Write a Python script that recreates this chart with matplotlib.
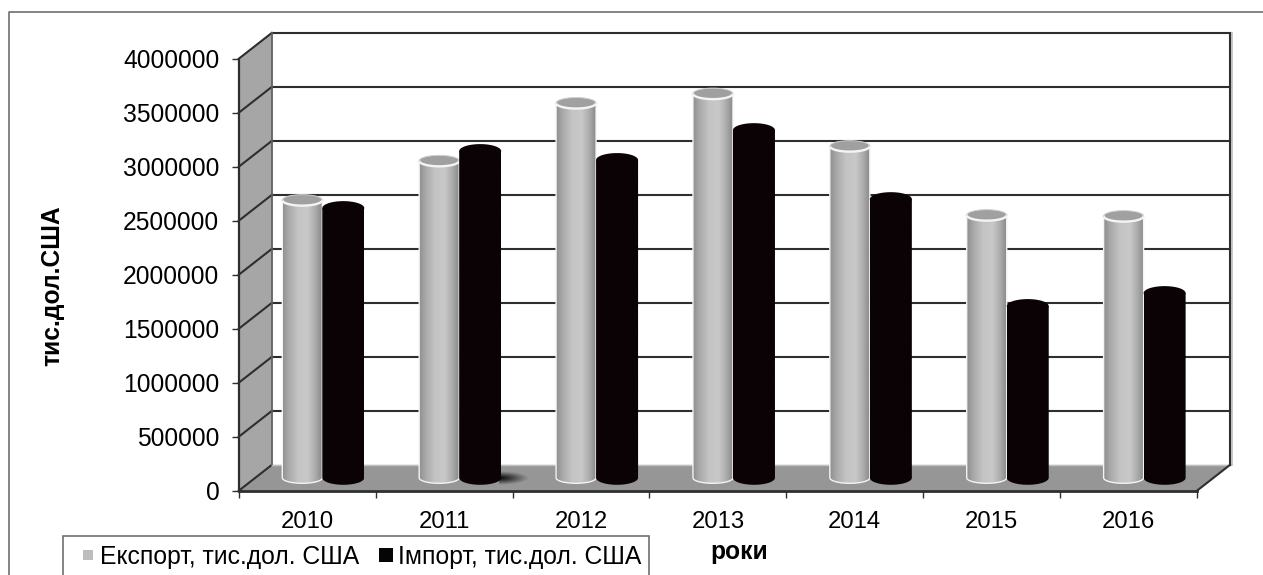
import numpy as np
import matplotlib
matplotlib.use('Agg')
import matplotlib.pyplot as plt
from matplotlib.lines import Line2D
from matplotlib.patches import Polygon, Rectangle
from matplotlib.colors import LinearSegmentedColormap

years = ['2010', '2011', '2012', '2013', '2014', '2015', '2016']
export_vals = [2571000, 2935000, 3470000, 3557000, 3071000, 2432000, 2423000]
import_vals = [2497000, 3025000, 2942000, 3219000, 2580000, 1590000, 1710000]
y_ticks = [0, 500000, 1000000, 1500000, 2000000, 2500000, 3000000, 3500000, 4000000]

W, H = 1263, 575
# front plane of the 3d box in pixels
PX_L, PX_R, PX_B, PX_T = 238.8, 1197.0, 490.7, 58.7
PX_PER_X = (PX_R - PX_L) / len(years)
PX_PER_Y = (PX_B - PX_T) / y_ticks[-1]
DX = 33.0 / PX_PER_X
DY = 25.8 / PX_PER_Y

plt.rcParams['font.family'] = ['Liberation Sans', 'DejaVu Sans']
LINE = '#2e2e2e'


def cylinder(ax, xc, half_w, val, cmap, semi_px, zorder, top_color, rim=None):
    # body + bottom arc, filled with a horizontal gradient
    base = DY / 2
    top = base + val
    semi = semi_px / PX_PER_Y
    t = np.linspace(np.pi, 2 * np.pi, 40)
    xs = np.concatenate([[xc - half_w], xc + half_w * np.cos(t), [xc + half_w]])
    ys = np.concatenate([[top], base + semi * np.sin(t), [top]])
    body = Polygon(np.column_stack([xs, ys]), closed=True, transform=ax.transData,
                   fc='none', ec='none')
    ax.add_patch(body)
    grad = np.linspace(0, 1, 64).reshape(1, -1)
    im = ax.imshow(grad, cmap=cmap, aspect='auto', zorder=zorder, vmin=0, vmax=1,
                   extent=[xc - half_w, xc + half_w, base - semi, top], interpolation='bilinear')
    im.set_clip_path(body)
    t2 = np.linspace(0, 2 * np.pi, 60)
    ex = xc + half_w * np.cos(t2)
    ey = top + semi * np.sin(t2)
    ax.fill(ex, ey, color=top_color, zorder=zorder + 0.1, clip_on=False, lw=0)
    if rim:
        ax.plot(xs, ys, color=rim, lw=1.0, zorder=zorder + 0.2, clip_on=False)
        # front of the top ring is bright, back of it only a thin light edge
        ax.plot(ex[30:], ey[30:], color=rim, lw=1.7, zorder=zorder + 0.3, clip_on=False)
        ax.plot(ex[:31], ey[:31], color='#d0d0d0', lw=0.7, zorder=zorder + 0.3, clip_on=False)


fig = plt.figure(figsize=(W / 100, H / 100), dpi=100)
ax = fig.add_axes([PX_L / W, 1 - PX_B / H, (PX_R - PX_L) / W, (PX_B - PX_T) / H])
n = len(years)
ymax = y_ticks[-1]

# left wall and floor
ax.add_patch(Polygon([(0, 0), (DX, DY), (DX, ymax + DY), (0, ymax)], fc='#a6a6a6', ec='none',
                     zorder=1, clip_on=False))
ax.add_patch(Polygon([(0, 0), (n, 0), (n + DX, DY), (DX, DY)], fc='#969696', ec='none',
                     zorder=1, clip_on=False))

# grid lines on walls
for v in y_ticks:
    if v > 0:
        ax.plot([DX, n + DX], [v + DY, v + DY], color=LINE, lw=1.5, zorder=2, clip_on=False)
    ax.plot([0, DX], [v, v + DY], color=LINE, lw=1.5, zorder=2, clip_on=False)
ax.plot([DX, DX], [DY, ymax + DY], color='#606060', lw=1.3, zorder=2, clip_on=False)
ax.plot([DX, n + DX], [DY, DY], color='#c0c0c0', lw=1.0, zorder=2, clip_on=False)
ax.plot([n + DX + 1.6 / PX_PER_X] * 2, [DY, ymax + DY], color='#bcbcbc', lw=1.2, zorder=1.5, clip_on=False)
ax.plot([n + DX, n + DX], [DY, ymax + DY], color=LINE, lw=1.5, zorder=2, clip_on=False)
ax.plot([n, n + DX], [0, DY], color=LINE, lw=1.5, zorder=2, clip_on=False)

export_cmap = LinearSegmentedColormap.from_list(
    'exp', [(0, '#8f8f8f'), (0.15, '#a8a8a8'), (0.4, '#c4c4c4'), (0.65, '#c8c8c8'),
            (0.85, '#aaaaaa'), (1, '#8a8a8a')])
import_cmap = LinearSegmentedColormap.from_list('imp', ['#0a0204', '#0a0204'])

SPLIT = 0.61
EXP_HW = 20.0 / PX_PER_X
IMP_HW = 21.0 / PX_PER_X

# shadow of the 2011 import bar on the floor
sx, sy = np.meshgrid(np.linspace(0, 1, 60), np.linspace(-1, 1, 30))
shadow = np.zeros(sx.shape + (4,))
shadow[..., 3] = np.clip(1 - np.sqrt(sx ** 2 + sy ** 2), 0, 1)
x_sh = 1 + SPLIT + 2 * IMP_HW
ax.imshow(shadow, aspect='auto', zorder=2.5, interpolation='bilinear',
          extent=[x_sh - 2 / PX_PER_X, x_sh + 28 / PX_PER_X, DY / 2 - 7 / PX_PER_Y, DY / 2 + 7 / PX_PER_Y])

for i in range(n):
    cylinder(ax, i + SPLIT - EXP_HW, EXP_HW, export_vals[i], export_cmap, 5.5, 3 + i * 0.01,
             '#a0a0a0', rim='#f4f4f4')
    cylinder(ax, i + SPLIT + IMP_HW, IMP_HW, import_vals[i], import_cmap, 7.0, 4 + i * 0.01,
             '#0a0204')

ax.set_xlim(0, n)
ax.set_ylim(0, ymax)
ax.patch.set_alpha(0)
for s in ['top', 'right']:
    ax.spines[s].set_visible(False)
ax.spines['left'].set_linewidth(1.6)
ax.spines['left'].set_color(LINE)
ax.spines['bottom'].set_linewidth(2.0)
ax.spines['bottom'].set_color(LINE)
ax.spines['left'].set_zorder(6)
ax.spines['bottom'].set_zorder(6)

ax.set_yticks(y_ticks)
ax.set_yticklabels([str(v) for v in y_ticks])
ax.set_xticks(range(n + 1))
ax.set_xticklabels([])
ax.set_xticks(np.arange(n) + 0.5, minor=True)
ax.set_xticklabels(years, minor=True)
ax.tick_params(axis='x', which='major', length=5, width=1, color=LINE)
ax.tick_params(axis='x', which='minor', length=0, labelsize=17.2, pad=14.5)
ax.tick_params(axis='y', length=5, width=1, color=LINE, labelsize=17.7, pad=9)

ax.set_ylabel('тис.дол.США', fontsize=17.7, fontweight='bold')
ax.yaxis.set_label_coords((64 - PX_L) / (PX_R - PX_L), (PX_B - 286) / (PX_B - PX_T))
ax.set_xlabel('роки', fontsize=17.7, fontweight='bold')
ax.xaxis.set_label_coords((739.5 - PX_L) / (PX_R - PX_L), -(540 - PX_B) / (PX_B - PX_T))

# outer chart frame, cut off by the image on the right and bottom
fig.add_artist(Line2D([8.5 / W, 8.5 / W, 1], [0, 1 - 11.5 / H, 1 - 11.5 / H], color='#707070', lw=1.2))

# legend box runs past the bottom edge, so it is drawn apart from the legend text
fig.add_artist(Rectangle((62.5 / W, -10 / H), (649 - 62.5) / W, (H + 10 - 535.7) / H, fc='white',
                         ec='#707070', lw=1.2, transform=fig.transFigure, zorder=9))
handles = [
    Line2D([], [], marker='s', linestyle='none', color='#bdbdbd', markersize=7.2, markeredgewidth=0),
    Line2D([], [], marker='s', linestyle='none', color='#050505', markersize=10, markeredgewidth=0),
]
leg = fig.legend(handles, ['Експорт, тис.дол. США', 'Імпорт, тис.дол. США'], ncol=2,
                 loc='center left', bbox_to_anchor=(79.4 / W, 1 - 557 / H),
                 fontsize=17.8, frameon=False,
                 borderpad=0, borderaxespad=0, handlelength=0.7, handletextpad=0.15, columnspacing=0.7)
leg.set_zorder(10)

plt.savefig('out.png', dpi=100)
